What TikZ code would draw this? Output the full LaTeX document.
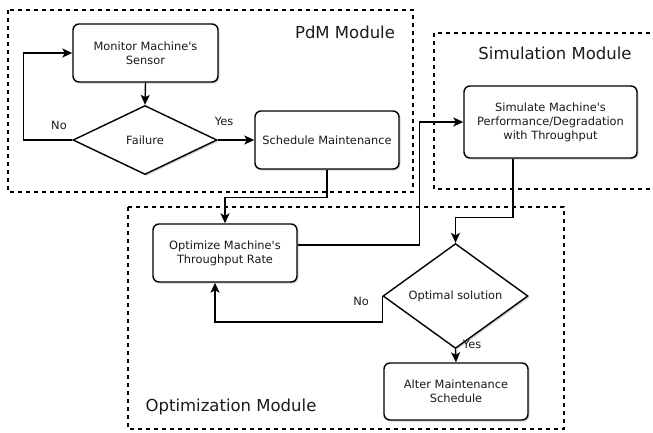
\documentclass[tikz,border=0pt]{standalone}
\usepackage{fontspec}
\setmainfont{DejaVu Sans}
\usetikzlibrary{shapes.geometric,arrows.meta,shadows}
\definecolor{ink}{HTML}{1A1A1A}
\newcommand{\apos}{\textquotesingle}
\begin{document}
\begin{tikzpicture}[x=1pt,y=-1pt,
  every node/.style={text=ink},
  txt/.style={font=\fontsize{11.4}{14}\selectfont, align=center},
  proc/.style={txt, draw=black, line width=1.4pt, rounded corners=6pt, fill=white,
    inner sep=0pt, drop shadow={shadow xshift=1.5pt, shadow yshift=-1.5pt, opacity=0.35, fill=gray}},
  decide/.style={txt, draw=black, line width=1.4pt, diamond, fill=white, inner sep=0pt,
    drop shadow={shadow xshift=1.5pt, shadow yshift=-1.5pt, opacity=0.35, fill=gray}},
  module/.style={draw=black, line width=1.1pt, dash pattern=on 4pt off 4pt},
  modlabel/.style={font=\fontsize{16.5}{19}\selectfont},
  lbl/.style={font=\fontsize{11.4}{13}\selectfont},
  flow/.style={draw=black, line width=1.4pt, -{Stealth[length=10pt,width=9pt,inset=2.5pt]}}]
\useasboundingbox (0,0) rectangle (653,432);

% module frames
\begin{scope}
  \clip (0,0) rectangle (653,432);
  \draw[module] (8,10) rectangle (413,192);
  \draw[module] (434,33) rectangle (670,189);
  \draw[module] (128,207) rectangle (564,429);
\end{scope}
\node[modlabel] (pdmlab) at (345,32) {PdM Module};
\node[modlabel] (simlab) at (555,53) {Simulation Module};
\node[modlabel] (optlab) at (231,407) {Optimization Module};

% process steps
\node[proc, minimum width=145pt, minimum height=58pt] (mon) at (145.5,53) {Monitor Machine\apos s\\Sensor};
\node[decide, minimum width=144pt, minimum height=69pt] (fail) at (145,140) {Failure};
\node[proc, minimum width=144pt, minimum height=58pt] (sched) at (327,140) {Schedule Maintenance};
\node[proc, minimum width=173pt, minimum height=72pt] (sim) at (550.5,122) {Simulate Machine\apos s\\Performance/Degradation\\with Throughput};
\node[proc, minimum width=144pt, minimum height=58pt] (opt) at (225,253) {Optimize Machine\apos s\\Throughput Rate};
\node[decide, minimum width=145pt, minimum height=86pt] (osol) at (455.5,296) {Optimal solution};
\node[proc, minimum width=144pt, minimum height=57pt] (alt) at (456,391.5) {Alter Maintenance\\Schedule};

% connectors
\draw[flow] (mon.south) -- (fail.north);
\draw[flow] (fail.west) -- ++(-49,0) |- (mon.west);
\draw[flow] (fail.east) -- (sched.west);
\draw[flow] (sched.south) -- ++(0,28) -| (opt.north);
\draw[flow] ([yshift=8pt]opt.east) -| (419.5,122) -- (sim.west);
\draw[flow] ([xshift=-37.5pt]sim.south) -- ++(0,59) -| (osol.north);
\draw[flow] (osol.west) -- ++(0,26) -| ([xshift=-10pt]opt.south);
\draw[flow] (osol.south) -- (alt.north);

% branch labels
\node[lbl] (no1) at (59,125) {No};
\node[lbl] (yes1) at (224,121) {Yes};
\node[lbl] (no2) at (361,301) {No};
\node[lbl] (yes2) at (472,344) {Yes};
\end{tikzpicture}
\end{document}
